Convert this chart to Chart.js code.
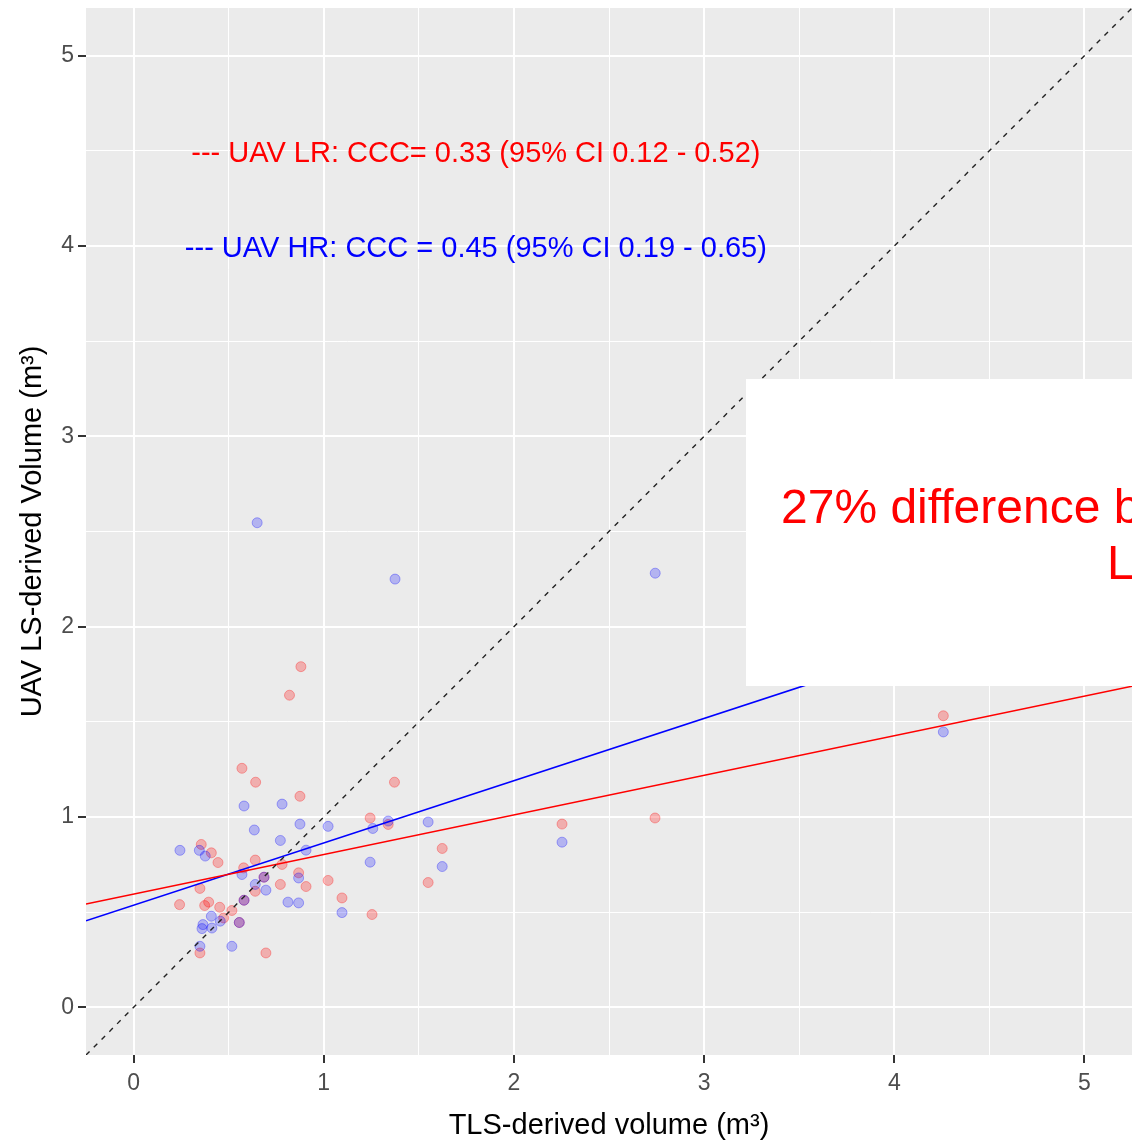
<!DOCTYPE html>
<html>
<head>
<meta charset="utf-8">
<script src="https://cdn.jsdelivr.net/npm/chart.js@4.4.0/dist/chart.umd.min.js"></script>
<style>
  body { margin: 0; background: #fff; }
  #wrap { width: 1132px; height: 1145px; position: relative; }
</style>
</head>
<body>
<div id="wrap"><canvas id="chart"></canvas></div>
<script>
// TLS vs UAV LS volume
const redX = [0.57, 0.642, 0.875, 0.356, 0.409, 0.444, 0.64, 0.579, 0.781, 0.868, 0.349, 0.64, 0.772, 0.907, 1.023, 1.096,
  0.242, 0.374, 0.395, 0.453, 0.517, 0.474, 0.349, 0.696, 0.686, 0.581, 0.556, 0.88, 0.82, 1.372, 1.244, 1.339,
  1.623, 1.549, 1.254, 2.253, 2.742, 4.258];
const redY = [1.256, 1.183, 1.109, 0.856, 0.812, 0.761, 0.774, 0.733, 0.751, 0.707, 0.625, 0.61, 0.646, 0.635, 0.667, 0.575,
  0.54, 0.535, 0.553, 0.526, 0.509, 0.47, 0.286, 0.286, 0.684, 0.563, 0.446, 1.79, 1.64, 1.183, 0.995, 0.961,
  0.835, 0.656, 0.488, 0.963, 0.995, 1.532];
const blueX = [0.244, 0.346, 0.377, 0.581, 0.635, 0.772, 0.781, 0.875, 0.57, 0.64, 0.686, 0.696, 0.581, 0.812, 0.868, 0.868,
  0.409, 0.456, 0.365, 0.36, 0.412, 0.556, 0.517, 0.349, 1.023, 0.907, 1.096, 1.244, 1.258, 1.339, 1.549, 1.623,
  2.253, 2.743, 0.65, 1.375, 4.258];
const blueY = [0.825, 0.825, 0.795, 1.058, 0.932, 0.877, 1.068, 0.963, 0.698, 0.646, 0.684, 0.616, 0.563, 0.553, 0.549, 0.68,
  0.479, 0.453, 0.435, 0.414, 0.417, 0.446, 0.321, 0.321, 0.951, 0.826, 0.498, 0.763, 0.94, 0.979, 0.974, 0.74,
  0.868, 2.281, 2.546, 2.25, 1.447];

// fitted lines: [intercept, slope]
const lrFit = [0.595, 0.208];
const hrFit = [0.537, 0.327];
const axisRange = [-0.25, 5.25];
const gridSteps = [0, 0.5, 1, 1.5, 2, 2.5, 3, 3.5, 4, 4.5, 5];
const tickLabels = ['0', '1', '2', '3', '4', '5'];

const toPoints = (xs, ys) => xs.map((x, i) => ({ x: x, y: ys[i] }));
const fitLine = (f) => axisRange.map(x => ({ x: x, y: f[0] + f[1] * x }));

const panelBg = {
  id: 'panelBg',
  beforeDraw(chart) {
    const { ctx, chartArea: a } = chart;
    ctx.save();
    ctx.fillStyle = '#EBEBEB';
    ctx.fillRect(a.left, a.top, a.right - a.left, a.bottom - a.top);
    ctx.restore();
  }
};

const notes = {
  id: 'notes',
  afterDatasetsDraw(chart) {
    const { ctx, scales } = chart;
    const xs = scales.x, ys = scales.y;
    ctx.save();
    ctx.font = '29px "Liberation Sans", Arial, sans-serif';
    ctx.textAlign = 'center';
    ctx.textBaseline = 'middle';
    ctx.fillStyle = '#FF0000';
    ctx.fillText('--- UAV LR: CCC= 0.33 (95% CI 0.12 - 0.52)', xs.getPixelForValue(1.8), ys.getPixelForValue(4.5) + 3);
    ctx.fillStyle = '#0000FF';
    ctx.fillText('--- UAV HR: CCC = 0.45 (95% CI 0.19 - 0.65)', xs.getPixelForValue(1.8), ys.getPixelForValue(4.0) + 3);

    // white callout pasted over the right side
    ctx.fillStyle = '#FFFFFF';
    ctx.fillRect(746, 379, 400, 307);
    ctx.fillStyle = '#FF0000';
    ctx.font = '48px "Liberation Sans", Arial, sans-serif';
    ctx.textAlign = 'left';
    ctx.textBaseline = 'alphabetic';
    ctx.fillText('27% difference between', 781, 523);
    ctx.fillText('LR & HR', 1107, 579);
    ctx.restore();
  }
};

const gridOpts = {
  color: '#FFFFFF',
  lineWidth: (c) => (c.tick && c.tick.value % 1 === 0 ? 2 : 1),
  tickColor: (c) => (c.tick && c.tick.value % 1 === 0 ? '#333333' : 'rgba(0,0,0,0)'),
  tickWidth: 2,
  tickLength: 8
};
const tickFont = { family: '"Liberation Sans", Arial, sans-serif', size: 23 };
const titleFont = { family: '"Liberation Sans", Arial, sans-serif', size: 29 };

new Chart(document.getElementById('chart'), {
  type: 'scatter',
  data: {
    datasets: [
      {
        label: 'UAV LR',
        data: toPoints(redX, redY),
        pointRadius: 5,
        backgroundColor: 'rgba(255,0,0,0.26)',
        borderColor: 'rgba(255,0,0,0.3)',
        borderWidth: 1,
        order: 3
      },
      {
        label: 'UAV HR',
        data: toPoints(blueX, blueY),
        pointRadius: 5,
        backgroundColor: 'rgba(0,0,255,0.24)',
        borderColor: 'rgba(0,0,255,0.3)',
        borderWidth: 1,
        order: 2
      },
      {
        label: 'LR fit',
        data: fitLine(lrFit),
        showLine: true,
        pointRadius: 0,
        borderColor: '#FF0000',
        borderWidth: 1.6,
        order: 1
      },
      {
        label: 'HR fit',
        data: fitLine(hrFit),
        showLine: true,
        pointRadius: 0,
        borderColor: '#0000FF',
        borderWidth: 1.6,
        order: 1
      },
      {
        label: '1:1',
        data: fitLine([0, 1]),
        showLine: true,
        pointRadius: 0,
        borderColor: '#222222',
        borderWidth: 1.4,
        borderDash: [5, 6],
        order: 0
      }
    ]
  },
  options: {
    responsive: true,
    maintainAspectRatio: false,
    animation: false,
    layout: { autoPadding: false, padding: { top: 8, right: 0, left: 0, bottom: 0 } },
    plugins: {
      legend: { display: false },
      tooltip: { enabled: false }
    },
    scales: {
      x: {
        type: 'linear',
        min: axisRange[0],
        max: axisRange[1],
        afterBuildTicks: (s) => { s.ticks = gridSteps.map(v => ({ value: v })); },
        afterFit: (s) => { s.height = 90; s.paddingLeft = 0; s.paddingRight = 0; },
        border: { display: false },
        grid: gridOpts,
        ticks: {
          autoSkip: false,
          maxRotation: 0,
          padding: 7,
          color: '#4D4D4D',
          font: tickFont,
          callback: (v) => (v % 1 === 0 ? tickLabels[v] : '')
        },
        title: {
          display: true,
          text: 'TLS-derived volume (m³)',
          color: '#000000',
          font: titleFont,
          padding: { top: 0, bottom: 2 }
        }
      },
      y: {
        type: 'linear',
        min: axisRange[0],
        max: axisRange[1],
        afterBuildTicks: (s) => { s.ticks = gridSteps.map(v => ({ value: v })); },
        afterFit: (s) => { s.width = 86; s.paddingTop = 0; s.paddingBottom = 0; },
        border: { display: false },
        grid: gridOpts,
        ticks: {
          autoSkip: false,
          padding: 4,
          color: '#4D4D4D',
          font: tickFont,
          callback: (v) => (v % 1 === 0 ? tickLabels[v] : '')
        },
        title: {
          display: true,
          text: 'UAV LS-derived Volume (m³)',
          color: '#000000',
          font: titleFont,
          padding: { top: 16, bottom: 0 }
        }
      }
    }
  },
  plugins: [panelBg, notes]
});
</script>
</body>
</html>
